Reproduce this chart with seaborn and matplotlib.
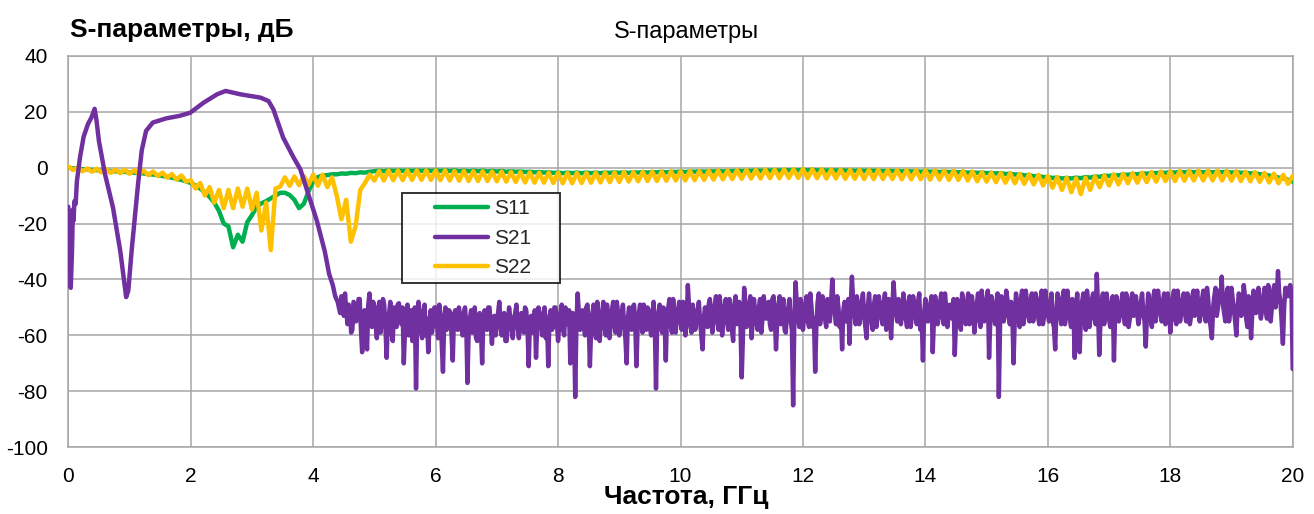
import numpy as np
import pandas as pd
import matplotlib
matplotlib.use("Agg")
import matplotlib.pyplot as plt
from matplotlib.legend_handler import HandlerLine2D
import seaborn as sns

# ---------------- data ----------------
series_names = ["S11", "S21", "S22"]
x_ticks = [0, 2, 4, 6, 8, 10, 12, 14, 16, 18, 20]
y_ticks = [-100, -80, -60, -40, -20, 0, 20, 40]

# S11 / S22 sweep grid (0..20 GHz, 261 points)
f_refl = np.linspace(0.0, 20.0, 261)

s11_db = [
    0.0, -0.3, -0.3, -0.6, -0.6, -0.9, -0.9, -1.2, -1.1, -1.4, -1.3, -1.6, -1.5,
    -1.8, -1.8, -2.0, -2.1, -2.3, -2.5, -2.7, -3.0, -3.3, -3.6, -4.0, -4.4, -4.9,
    -5.5, -6.4, -7.5, -8.8, -10.5, -12.5, -15.5, -20.0, -21.0, -28.5, -24.0, -26.5, -19.5,
    -17.0, -14.0, -12.8, -12.0, -11.0, -10.0, -9.0, -9.0, -9.8, -11.5, -14.5, -13.0, -8.5,
    -5.0, -3.4, -2.8, -2.7, -2.4, -2.4, -2.1, -2.2, -1.9, -2.0, -1.7, -1.8, -1.5,
    -1.3, -1.1, -1.3, -1.0, -1.2, -1.0, -1.2, -1.0, -1.2, -1.0, -1.2, -1.0, -1.2,
    -1.0, -1.2, -1.0, -1.2, -1.0, -1.3, -1.1, -1.3, -1.1, -1.3, -1.1, -1.4, -1.2,
    -1.4, -1.2, -1.5, -1.3, -1.5, -1.4, -1.6, -1.5, -1.7, -1.6, -1.8, -1.7, -1.9,
    -1.8, -2.0, -1.8, -2.0, -1.8, -2.0, -1.8, -2.0, -1.8, -2.0, -1.8, -1.9, -1.7,
    -1.9, -1.7, -1.9, -1.7, -1.8, -1.6, -1.8, -1.6, -1.7, -1.5, -1.7, -1.5, -1.6,
    -1.4, -1.6, -1.4, -1.5, -1.3, -1.5, -1.3, -1.4, -1.2, -1.4, -1.2, -1.3, -1.1,
    -1.3, -1.1, -1.2, -1.0, -1.2, -1.0, -1.1, -0.9, -1.1, -0.9, -1.0, -0.9, -1.0,
    -0.8, -1.0, -0.8, -1.0, -0.9, -1.1, -0.9, -1.1, -0.9, -1.1, -1.0, -1.2, -1.0,
    -1.2, -1.0, -1.2, -1.1, -1.3, -1.1, -1.3, -1.2, -1.4, -1.2, -1.4, -1.3, -1.5,
    -1.3, -1.5, -1.4, -1.6, -1.4, -1.6, -1.5, -1.7, -1.6, -1.8, -1.7, -1.9, -1.8,
    -2.0, -1.9, -2.1, -2.0, -2.3, -2.2, -2.5, -2.4, -2.8, -2.7, -3.1, -3.0, -3.4,
    -3.4, -3.7, -3.6, -3.9, -3.7, -3.9, -3.6, -3.8, -3.4, -3.6, -3.2, -3.3, -2.9,
    -3.0, -2.7, -2.8, -2.5, -2.6, -2.3, -2.4, -2.1, -2.2, -1.9, -2.0, -1.8, -1.9,
    -1.6, -1.8, -1.5, -1.7, -1.5, -1.7, -1.5, -1.7, -1.5, -1.7, -1.5, -1.7, -1.5,
    -1.8, -1.6, -1.9, -1.8, -2.1, -2.0, -2.4, -2.4, -2.9, -3.0, -3.6, -3.8, -4.4,
    -5.0,
]

s22_db = [
    0.4, -0.9, 0.0, -1.3, -0.3, -1.5, -0.4, -1.7, -0.6, -1.9, -0.7, -2.0, -0.8,
    -2.2, -0.9, -2.4, -1.1, -2.7, -1.4, -3.0, -1.8, -3.6, -2.3, -4.3, -2.8, -5.0,
    -4.5, -7.5, -5.5, -10.0, -7.0, -12.5, -8.0, -14.5, -8.0, -14.5, -7.5, -14.0, -7.5,
    -15.0, -9.0, -22.5, -12.5, -29.5, -7.5, -6.8, -3.5, -6.5, -3.2, -6.3, -3.0, -6.2,
    -2.5, -6.5, -2.5, -7.0, -3.5, -10.0, -18.5, -11.5, -26.5, -21.0, -8.0, -5.5, -2.5,
    -4.6, -1.2, -4.6, -1.0, -4.5, -1.0, -4.5, -1.0, -4.4, -1.0, -4.4, -1.0, -4.4,
    -1.0, -4.5, -1.0, -4.6, -1.2, -4.7, -1.2, -4.8, -1.3, -4.8, -1.3, -4.8, -1.4,
    -4.9, -1.4, -5.0, -1.5, -5.1, -1.6, -5.3, -1.7, -5.4, -1.8, -5.4, -1.8, -5.5,
    -1.8, -5.6, -1.9, -5.6, -1.9, -5.5, -1.9, -5.4, -1.8, -5.3, -1.8, -5.2, -1.7,
    -5.1, -1.6, -5.0, -1.6, -4.9, -1.5, -4.8, -1.4, -4.8, -1.4, -4.7, -1.3, -4.6,
    -1.3, -4.6, -1.2, -4.5, -1.2, -4.4, -1.1, -4.3, -1.0, -4.2, -1.0, -4.1, -0.9,
    -4.0, -0.8, -3.9, -0.8, -3.9, -0.7, -3.8, -0.7, -3.8, -0.6, -3.7, -0.6, -3.7,
    -0.5, -3.8, -0.6, -3.8, -0.6, -3.9, -0.7, -3.9, -0.7, -4.0, -0.8, -4.0, -0.8,
    -4.1, -0.8, -4.1, -0.8, -4.1, -0.8, -4.1, -0.9, -4.2, -0.9, -4.2, -0.9, -4.2,
    -1.0, -4.3, -1.0, -4.3, -1.1, -4.4, -1.1, -4.4, -1.2, -4.6, -1.4, -4.9, -1.7,
    -5.0, -1.8, -5.2, -1.9, -5.4, -2.0, -5.6, -2.2, -5.8, -2.4, -6.0, -2.6, -6.4,
    -3.0, -7.2, -3.4, -8.0, -3.6, -8.8, -3.8, -9.5, -3.6, -8.0, -3.2, -7.0, -2.8,
    -6.4, -2.4, -6.0, -2.2, -5.6, -2.0, -5.4, -1.8, -5.2, -1.6, -5.0, -1.4, -4.8,
    -1.3, -4.8, -1.2, -4.7, -1.2, -4.6, -1.1, -4.6, -1.1, -4.6, -1.1, -4.6, -1.2,
    -4.7, -1.3, -4.8, -1.5, -4.9, -1.6, -5.1, -1.9, -5.3, -2.2, -5.6, -2.6, -5.8,
    -3.0,
]

# S21 passband / transition part (explicit frequencies)
s21_f_low = [0.00, 0.02, 0.04, 0.06, 0.075, 0.085, 0.10, 0.12, 0.14, 0.19, 0.25,
             0.32, 0.38, 0.43, 0.46, 0.50, 0.60, 0.73, 0.85, 0.945, 0.98, 1.035,
             1.14, 1.20, 1.27, 1.38, 1.60, 1.82, 1.99, 2.21, 2.43, 2.57, 2.81,
             3.14, 3.27, 3.35, 3.51, 3.68, 3.79, 3.92, 4.06, 4.19, 4.26, 4.32, 4.36]
s21_db_low = [-14, -30, -43, -30, -15, -19, -12, -13, -5, 3.5, 11,
              15.5, 18.0, 21, 17, 9.5, -2.4, -14.3, -30, -46.3, -44, -29.6,
              -5.7, 6.2, 13.1, 16.1, 17.6, 18.5, 19.6, 23.2, 26.2, 27.4, 26.2,
              25, 23.8, 20.8, 10.7, 3.6, -0.6, -9.5, -19, -30, -38, -42, -46]

# S21 stopband sweep (4.40..20.00 GHz, 781 points, one row = 1 GHz)
f_stop = np.linspace(4.40, 20.0, 781)
s21_db_stop = [
    # 4.40 - 5.38
    -48, -50, -52, -46, -47, -53, -45, -51, -56, -49, -50, -59, -58, -48, -49, -55, -54, -47, -47, -58,
    -66, -52, -51, -60, -65, -49, -45, -53, -57, -48, -50, -56, -61, -51, -48, -59, -55, -47, -49, -57,
    -68, -55, -52, -48, -59, -62, -50, -54, -57, -49,
    # 5.40 - 6.38
    -48.5, -53, -56, -50, -70, -58, -53, -49, -60, -55, -51, -62, -57, -50, -79, -54, -48, -52, -58, -61,
    -52, -49, -60, -54, -66, -57, -51, -59, -56, -50, -50, -55, -61, -49, -53, -63, -73, -55, -50, -58,
    -57, -51, -52, -60, -69, -53, -51, -57, -58, -50,
    # 6.40 - 7.38
    -53, -57, -60, -52, -50, -56, -77, -58, -54, -51, -59, -55, -50, -61, -62, -53, -52, -58, -70, -54,
    -51, -57, -58, -50, -50, -56, -63, -55, -53, -60, -57, -52, -48, -55, -60, -53, -52, -62, -62, -56,
    -50, -54, -57, -61, -54, -52, -49, -57, -61, -55,
    # 7.40 - 8.38
    -52, -56, -59, -50, -51, -57, -71, -55, -53, -59, -58, -51, -68, -56, -50, -54, -56, -60, -52, -50,
    -61, -55, -71, -53, -51, -58, -57, -50, -50, -55, -62, -56, -52, -49, -58, -60, -50, -54, -56, -51,
    -70, -57, -52, -55, -82, -56, -45, -52, -58, -54,
    # 8.40 - 9.38
    -51, -56, -60, -50, -49, -55, -71, -58, -53, -49, -58, -61, -48, -53, -62, -55, -52, -48, -57, -60,
    -49, -54, -61, -56, -51, -48, -56, -59, -48, -52, -60, -55, -52, -49, -57, -61, -70, -54, -50, -56,
    -58, -50, -49, -55, -71, -57, -52, -49, -56, -59,
    # 9.40 - 10.38
    -49, -55, -58, -50, -51, -57, -60, -53, -48, -56, -79, -54, -52, -49, -57, -59, -50, -55, -69, -52,
    -50, -47, -56, -59, -47, -52, -59, -54, -51, -48, -55, -58, -48, -51, -60, -55, -42, -50, -56, -59,
    -49, -53, -58, -55, -51, -48, -55, -60, -65, -54,
    # 10.40 - 11.38
    -50, -55, -57, -49, -47, -54, -59, -53, -49, -46, -55, -58, -46, -51, -60, -55, -50, -47, -54, -58,
    -47, -52, -58, -62, -49, -46, -56, -53, -48, -57, -75, -60, -43, -50, -57, -53, -49, -46, -61, -55,
    -47, -52, -55, -58, -50, -47, -59, -54, -46, -51,
    # 11.40 - 12.38
    -54, -50, -48, -56, -58, -47, -46, -53, -65, -55, -49, -46, -56, -52, -47, -58, -59, -51, -50, -47,
    -55, -58, -85, -54, -41, -49, -53, -57, -47, -50, -58, -53, -49, -46, -55, -57, -45, -50, -57, -54,
    -73, -56, -48, -45, -56, -52, -46, -50, -54, -57,
    # 12.40 - 13.38
    -47, -52, -55, -48, -40, -49, -52, -56, -46, -50, -57, -53, -65, -51, -48, -55, -54, -47, -63, -50,
    -39, -48, -52, -56, -46, -50, -56, -53, -48, -45, -53, -57, -61, -50, -45, -52, -55, -58, -49, -46,
    -57, -53, -46, -51, -53, -56, -48, -45, -58, -52,
    # 13.40 - 14.38
    -47, -52, -61, -50, -41, -48, -52, -55, -47, -51, -56, -52, -45, -49, -54, -57, -49, -46, -57, -53,
    -46, -50, -53, -56, -48, -45, -58, -54, -69, -52, -47, -50, -55, -53, -49, -46, -66, -54, -46, -51,
    -56, -53, -48, -45, -53, -56, -45, -50, -57, -53,
    # 14.40 - 15.38
    -49, -53, -54, -47, -67, -55, -47, -51, -55, -58, -45, -49, -53, -56, -48, -45, -56, -52, -46, -50,
    -59, -53, -49, -45, -54, -57, -44, -50, -55, -53, -47, -44, -68, -55, -46, -50, -53, -56, -48, -45,
    -82, -56, -46, -50, -55, -52, -44, -47, -53, -56,
    # 15.40 - 16.38
    -48, -52, -70, -54, -45, -49, -54, -57, -47, -44, -56, -53, -44, -48, -52, -55, -48, -45, -55, -52,
    -45, -49, -53, -56, -47, -44, -56, -53, -44, -50, -52, -55, -48, -45, -55, -57, -65, -51, -45, -48,
    -53, -56, -47, -44, -56, -52, -44, -49, -54, -57,
    # 16.40 - 17.38
    -47, -52, -68, -50, -45, -53, -66, -54, -48, -45, -55, -58, -44, -49, -57, -53, -47, -45, -53, -56,
    -38, -50, -67, -55, -48, -45, -56, -52, -45, -49, -54, -57, -49, -46, -69, -52, -46, -50, -55, -52,
    -48, -45, -53, -56, -45, -49, -57, -54, -47, -45,
    # 17.40 - 18.38
    -53, -49, -46, -52, -56, -53, -48, -45, -52, -55, -64, -52, -45, -49, -54, -57, -47, -44, -55, -51,
    -44, -48, -52, -55, -48, -45, -56, -53, -45, -49, -59, -54, -47, -44, -53, -56, -44, -48, -55, -52,
    -48, -45, -52, -55, -45, -49, -56, -53, -46, -44,
    # 18.40 - 19.38
    -53, -48, -44, -50, -55, -52, -47, -44, -52, -55, -43, -47, -54, -57, -61, -50, -46, -43, -53, -50,
    -44, -48, -39, -49, -52, -55, -45, -43, -55, -51, -43, -47, -51, -55, -60, -50, -45, -48, -53, -50,
    -42, -46, -54, -57, -46, -50, -61, -52, -44, -47,
    # 19.40 - 20.00
    -52, -47, -43, -50, -54, -51, -46, -43, -51, -54, -42, -47, -55, -50, -44, -42, -50, -46, -37, -45,
    -48, -55, -63, -50, -43, -45, -46, -43, -42, -44, -72,
]

assert len(s11_db) == len(f_refl) and len(s22_db) == len(f_refl)
assert len(s21_db_low) == len(s21_f_low)
assert len(s21_db_stop) == len(f_stop)

df11 = pd.DataFrame({"f": f_refl, "dB": s11_db})
df22 = pd.DataFrame({"f": f_refl, "dB": s22_db})
df21 = pd.DataFrame({"f": np.concatenate([s21_f_low, f_stop]),
                     "dB": list(s21_db_low) + list(s21_db_stop)})

# ---------------- style ----------------
sns.set_theme(style="white")
FONT = ["Liberation Sans Narrow", "Liberation Sans", "DejaVu Sans"]
plt.rcParams["font.family"] = FONT
plt.rcParams["axes.unicode_minus"] = False

colors = {"S11": "#00B050", "S21": "#7030A0", "S22": "#FFC000"}
grid_c = "#A6A6A6"

fig = plt.figure(figsize=(13.14, 5.14), dpi=100)
ax = fig.add_axes([0.05198, 0.12977, 0.93181, 0.76187])

lw = 3.2
common = dict(ax=ax, linewidth=lw, sort=False, estimator=None)
sns.lineplot(data=df11, x="f", y="dB", color=colors["S11"], label="S11", zorder=3, **common)
sns.lineplot(data=df21, x="f", y="dB", color=colors["S21"], label="S21", zorder=5, **common)
sns.lineplot(data=df22, x="f", y="dB", color=colors["S22"], label="S22", zorder=4, **common)
for ln in ax.get_lines():
    ln.set_solid_joinstyle("round")
    ln.set_solid_capstyle("round")

ax.set_xlim(0, 20)
ax.set_ylim(-100, 40)
ax.set_xticks(x_ticks)
ax.set_yticks(y_ticks)
ax.set_xticklabels([str(v) for v in x_ticks])
ax.set_yticklabels([str(v) for v in y_ticks])
ax.grid(True, color=grid_c, linewidth=1.1)
ax.set_axisbelow(True)
for s in ax.spines.values():
    s.set_color(grid_c)
    s.set_linewidth(1.1)

tick_fs = 15
ax.tick_params(axis="x", length=0, pad=14, labelsize=tick_fs, colors="black")
ax.tick_params(axis="y", length=4.8, width=1.1, color=grid_c, direction="out",
               pad=10, labelsize=tick_fs, labelcolor="black")

ax.set_xlabel("Частота, ГГц", fontsize=19, fontweight="bold", color="black")
ax.xaxis.set_label_coords(0.505, -0.128)
ax.xaxis.label.set_va("center")

ax.set_ylabel("S-параметры, дБ", fontsize=19, fontweight="bold", color="black",
              rotation=0, ha="left", va="center")
ax.yaxis.set_label_coords(0.0014, 1.066)

ax.set_title("S-параметры", fontsize=17, color="black", pad=13, x=0.505)

handler = HandlerLine2D(xpad=1.3)
leg = ax.legend(loc="upper left", bbox_to_anchor=(0.2725, 0.4196, 0.129, 0.2294),
                mode="expand", fontsize=tick_fs, frameon=True, fancybox=False,
                edgecolor="black", handlelength=3.85, handletextpad=0.25,
                borderpad=0.3, labelspacing=0.5, borderaxespad=0,
                handler_map={plt.Line2D: handler})
leg.get_frame().set_linewidth(1.4)
for h in leg.get_lines():
    h.set_linewidth(lw)

fig.savefig("out.png", dpi=100)
